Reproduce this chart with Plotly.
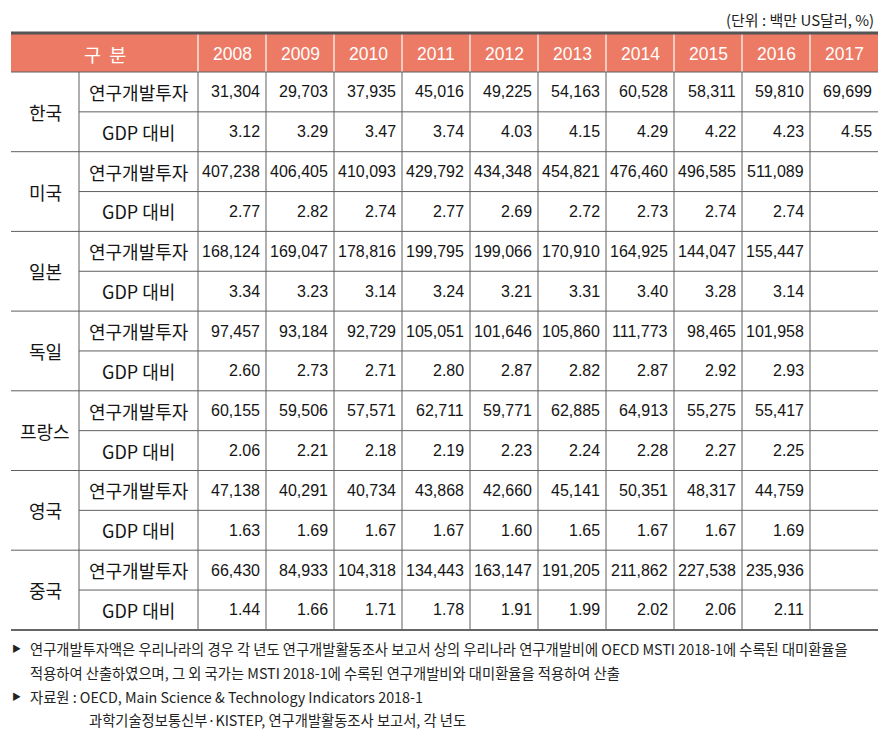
import plotly.graph_objects as go

years = ["2008", "2009", "2010", "2011", "2012", "2013", "2014", "2015", "2016", "2017"]
countries = ["한국", "미국", "일본", "독일", "프랑스", "영국", "중국"]
row_labels = ["연구개발투자", "GDP 대비"]

rnd_korea = [31304, 29703, 37935, 45016, 49225, 54163, 60528, 58311, 59810, 69699]
gdp_korea = [3.12, 3.29, 3.47, 3.74, 4.03, 4.15, 4.29, 4.22, 4.23, 4.55]
rnd_usa = [407238, 406405, 410093, 429792, 434348, 454821, 476460, 496585, 511089, None]
gdp_usa = [2.77, 2.82, 2.74, 2.77, 2.69, 2.72, 2.73, 2.74, 2.74, None]
rnd_japan = [168124, 169047, 178816, 199795, 199066, 170910, 164925, 144047, 155447, None]
gdp_japan = [3.34, 3.23, 3.14, 3.24, 3.21, 3.31, 3.40, 3.28, 3.14, None]
rnd_germany = [97457, 93184, 92729, 105051, 101646, 105860, 111773, 98465, 101958, None]
gdp_germany = [2.60, 2.73, 2.71, 2.80, 2.87, 2.82, 2.87, 2.92, 2.93, None]
rnd_france = [60155, 59506, 57571, 62711, 59771, 62885, 64913, 55275, 55417, None]
gdp_france = [2.06, 2.21, 2.18, 2.19, 2.23, 2.24, 2.28, 2.27, 2.25, None]
rnd_uk = [47138, 40291, 40734, 43868, 42660, 45141, 50351, 48317, 44759, None]
gdp_uk = [1.63, 1.69, 1.67, 1.67, 1.60, 1.65, 1.67, 1.67, 1.69, None]
rnd_china = [66430, 84933, 104318, 134443, 163147, 191205, 211862, 227538, 235936, None]
gdp_china = [1.44, 1.66, 1.71, 1.78, 1.91, 1.99, 2.02, 2.06, 2.11, None]

unit_text = "(단위 : 백만 US달러, %)"
notes = [
    ("▶", "연구개발투자액은 우리나라의 경우 각 년도 연구개발활동조사 보고서 상의 우리나라 연구개발비에 OECD MSTI 2018-1에 수록된 대미환율을"),
    ("", "적용하여 산출하였으며, 그 외 국가는 MSTI 2018-1에 수록된 연구개발비와 대미환율을 적용하여 산출"),
    ("▶", "자료원 : OECD, Main Science & Technology Indicators 2018-1"),
    ("", "과학기술정보통신부·KISTEP, 연구개발활동조사 보고서, 각 년도"),
]

data = [
    (rnd_korea, gdp_korea), (rnd_usa, gdp_usa), (rnd_japan, gdp_japan),
    (rnd_germany, gdp_germany), (rnd_france, gdp_france), (rnd_uk, gdp_uk),
    (rnd_china, gdp_china),
]

# layout geometry (screen pixels); page body has an 8px margin
W, H = 889, 745
OFF = 8
x_left, x_country, x_cat = 11, 79, 198
col_w = 68
x_right = x_cat + col_w * len(years)
y_top, y_head = 33, 72
row_h = 39.85
y_bottom = y_head + row_h * 2 * len(countries)

KFONT = "Noto Sans CJK KR"
NFONT = "Liberation Sans, Arial"
HEAD_BG = "#EC7A64"
LINE = "#5f5f5f"
TXT = "#151515"

shapes = []
ann = []

def line(x0, y0, x1, y1, color=LINE, width=1):
    shapes.append(dict(type="line", xref="x", yref="y", x0=x0, y0=y0, x1=x1, y1=y1,
                       line=dict(color=color, width=width)))

def text(x, y, s, size, font=KFONT, color=TXT, xanchor="center", yanchor="middle", pad=1):
    ann.append(dict(x=x, y=y, xref="x", yref="y", text=s, showarrow=False,
                    xanchor=xanchor, yanchor=yanchor, borderpad=pad,
                    font=dict(family=font, size=size, color=color)))

# header
shapes.append(dict(type="rect", xref="x", yref="y", x0=x_left, x1=x_right, y0=y_top, y1=y_head,
                   fillcolor=HEAD_BG, line=dict(width=0), layer="below"))
yc = (y_top + y_head) / 2
text((x_left + x_cat) / 2, yc + 1, "구  분", 18.5, color="white")
for i, yr in enumerate(years):
    x0 = x_cat + i * col_w
    text(x0 + col_w / 2, yc + 1, yr, 17.5, font=NFONT, color="white")
    line(x0, y_top, x0, y_head, color="white", width=1.2)

# body
for ci, (cname, (rnd, gdp)) in enumerate(zip(countries, data)):
    yb = y_head + ci * 2 * row_h
    text((x_left + x_country) / 2, yb + row_h, cname, 18)
    for ri, (lab, vals) in enumerate(zip(row_labels, (rnd, gdp))):
        y0 = yb + ri * row_h
        ym = y0 + row_h / 2
        text((x_country + x_cat) / 2, ym, lab, 18)
        for i, v in enumerate(vals):
            if v is None:
                continue
            s = f"{v:,}" if ri == 0 else f"{v:.2f}"
            xr = x_cat + (i + 1) * col_w - 4
            text(xr, ym, s, 16, font=NFONT, xanchor="right")
        if ri == 1:
            line(x_country, y0, x_right, y0)
    if ci > 0:
        line(x_left, yb, x_right, yb)

# vertical lines in body
for xv in [x_country, x_cat] + [x_cat + i * col_w for i in range(1, len(years))]:
    line(xv, y_head, xv, y_bottom)
line(x_left, y_head, x_right, y_head)

# top and bottom borders
line(x_left, y_top, x_right, y_top, color="#555555", width=3)
line(x_left, y_bottom, x_right, y_bottom, color="#666666", width=2)

# unit
text(x_right - 3, OFF, unit_text, 15, color="#222222", xanchor="right", yanchor="top", pad=0)

# footnotes
note_y = [648, 672, 696, 719]
note_x = [28, 28, 28, 87]
for (mark, s), ny, nx in zip(notes, note_y, note_x):
    if mark:
        text(16, ny, mark, 9, color="#222222")
    text(nx, ny, s, 14.3, color="#222222", xanchor="left")

fig = go.Figure()
fig.update_layout(
    width=W - 2 * OFF, height=H - 2 * OFF, margin=dict(l=0, r=0, t=0, b=0),
    paper_bgcolor="white", plot_bgcolor="white",
    xaxis=dict(range=[OFF, W - OFF], visible=False, fixedrange=True),
    yaxis=dict(range=[H - OFF, OFF], visible=False, fixedrange=True),
    shapes=shapes, annotations=ann, showlegend=False,
)
fig.write_html("out.html")
